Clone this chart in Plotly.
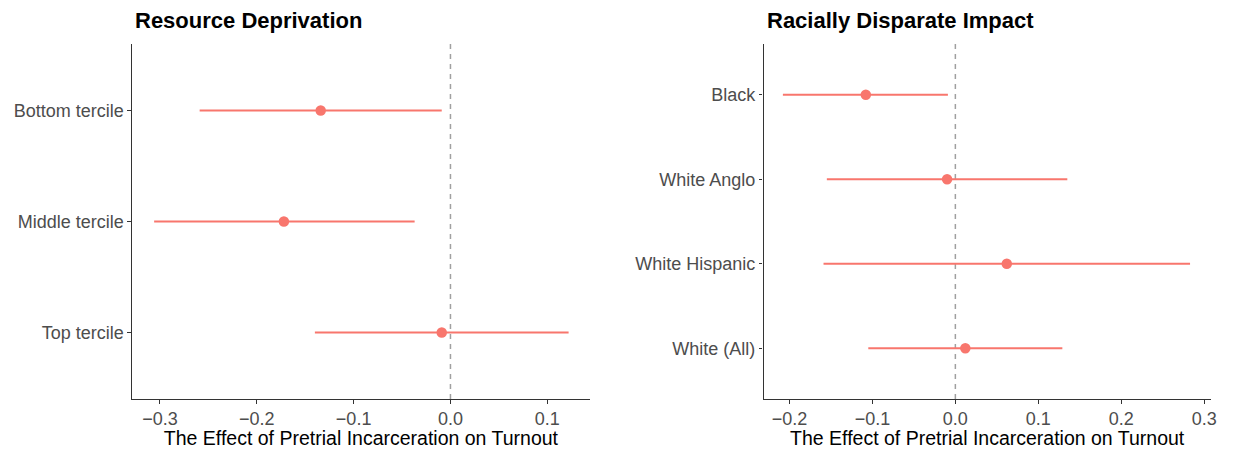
import plotly.graph_objects as go

# Resource deprivation panel
res_groups = ["Bottom tercile", "Middle tercile", "Top tercile"]
res_est = [-0.134, -0.172, -0.009]
res_lo = [-0.259, -0.306, -0.140]
res_hi = [-0.009, -0.037, 0.122]

# Racially disparate impact panel
race_groups = ["Black", "White Anglo", "White Hispanic", "White (All)"]
race_est = [-0.108, -0.010, 0.062, 0.012]
race_lo = [-0.208, -0.155, -0.159, -0.105]
race_hi = [-0.009, 0.135, 0.283, 0.129]

res_ticks = [-0.3, -0.2, -0.1, 0.0, 0.1]
race_ticks = [-0.2, -0.1, 0.0, 0.1, 0.2, 0.3]

POINT_COLOR = "#F8766D"
FONT = "Liberation Sans, Arial, sans-serif"
W, H = 1233, 449
XTITLE = "The Effect of Pretrial Incarceration on Turnout"


def fmt(v):
    s = f"{abs(v):.1f}"
    return ("\u2212" + s) if v < 0 else s


fig = go.Figure()


def add_panel(groups, est, lo, hi, xa, ya):
    n = len(groups)
    ypos = list(range(n, 0, -1))
    fig.add_trace(go.Scatter(
        x=est, y=ypos, xaxis=xa, yaxis=ya, mode="markers",
        marker=dict(color=POINT_COLOR, size=10.5),
        error_x=dict(type="data", symmetric=False,
                     array=[h - e for h, e in zip(hi, est)],
                     arrayminus=[e - l for e, l in zip(est, lo)],
                     color=POINT_COLOR, thickness=2.1, width=0),
        showlegend=False, hoverinfo="skip",
    ))
    return ypos


y1 = add_panel(res_groups, res_est, res_lo, res_hi, "x", "y")
y2 = add_panel(race_groups, race_est, race_lo, race_hi, "x2", "y2")

top_px, bot_px = 44, 399
ydom = [(H - bot_px) / H, (H - top_px) / H]

axis_common = dict(
    showgrid=False, zeroline=False, showline=True, linecolor="#333333",
    linewidth=1.2, ticks="outside", ticklen=3.5, tickcolor="#333333",
    tickwidth=1.1, tickfont=dict(family=FONT, size=18, color="#4D4D4D"),
)
title_font = dict(family=FONT, size=19.5, color="black")

fig.update_layout(
    width=W, height=H, margin=dict(l=0, r=0, t=0, b=0),
    paper_bgcolor="white", plot_bgcolor="white",
    xaxis=dict(domain=[132.7 / W, 592.7 / W], range=[-0.3288, 0.1439],
               tickvals=res_ticks, ticktext=[fmt(v) for v in res_ticks],
               title=dict(text=XTITLE, font=title_font, standoff=6),
               anchor="y", **axis_common),
    yaxis=dict(domain=ydom, range=[0.4, 3.6], tickvals=y1, ticktext=res_groups,
               anchor="x", **axis_common),
    xaxis2=dict(domain=[767.3 / W, 1216.7 / W], range=[-0.2313, 0.308],
                tickvals=race_ticks, ticktext=[fmt(v) for v in race_ticks],
                title=dict(text=XTITLE, font=title_font, standoff=6),
                anchor="y2", **axis_common),
    yaxis2=dict(domain=ydom, range=[0.4, 4.6], tickvals=y2, ticktext=race_groups,
                anchor="x2", **axis_common),
)

# dashed reference line at zero in each panel
for xr, yr in (("x", "y domain"), ("x2", "y2 domain")):
    fig.add_shape(type="line", xref=xr, yref=yr, x0=0, x1=0, y0=0, y1=1,
                  line=dict(color="#A0A0A0", width=1.5, dash="5px,5px"), layer="below")

# panel titles
for txt, xp in (("Resource Deprivation", 133.3 / W), ("Racially Disparate Impact", 768.3 / W)):
    fig.add_annotation(text=f"<b>{txt}</b>", xref="paper", yref="paper",
                       x=xp, y=(H - 21) / H, xanchor="left", yanchor="middle",
                       showarrow=False, font=dict(family=FONT, size=22, color="black"))

fig.write_html("out.html")
